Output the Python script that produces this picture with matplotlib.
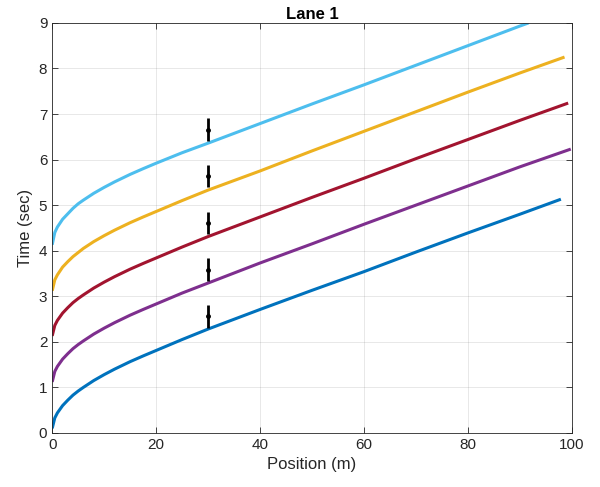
import numpy as np
import matplotlib
matplotlib.use('Agg')
import matplotlib.pyplot as plt

plt.rcParams['font.family'] = ['Liberation Sans', 'DejaVu Sans']

# position samples (m)
pos = [0, 0.5, 1, 2, 3, 4, 5, 6, 8, 10, 12, 15, 17.5, 20, 25, 30,
       40, 50, 60, 70, 80, 90]

lanes = {
    'blue':   (pos + [97.9], [0.10, 0.33, 0.44, 0.60, 0.72, 0.83, 0.92, 1.00, 1.15, 1.28, 1.40,
                              1.565, 1.69, 1.81, 2.05, 2.28,
                              2.71, 3.13, 3.54, 3.97, 4.39, 4.80, 5.13]),
    'purple': (pos + [99.8], [1.12, 1.35, 1.46, 1.62, 1.74, 1.85, 1.94, 2.02, 2.17, 2.30, 2.42,
                              2.585, 2.71, 2.83, 3.07, 3.29,
                              3.73, 4.15, 4.58, 5.00, 5.42, 5.84, 6.23]),
    'red':    (pos + [99.3], [2.13, 2.36, 2.47, 2.63, 2.75, 2.86, 2.95, 3.03, 3.18, 3.31, 3.43,
                              3.595, 3.72, 3.84, 4.08, 4.31,
                              4.74, 5.17, 5.59, 6.02, 6.44, 6.86, 7.24]),
    'yellow': (pos + [98.6], [3.12, 3.36, 3.47, 3.64, 3.76, 3.87, 3.96, 4.05, 4.20, 4.33, 4.45,
                              4.615, 4.74, 4.86, 5.10, 5.33,
                              5.75, 6.19, 6.62, 7.05, 7.48, 7.90, 8.25]),
    'cyan':   (pos + [91.7], [4.13, 4.40, 4.52, 4.69, 4.81, 4.93, 5.03, 5.11, 5.26, 5.39, 5.51,
                              5.675, 5.80, 5.92, 6.15, 6.36,
                              6.79, 7.22, 7.64, 8.07, 8.50, 8.93, 9.00]),
}
colors = {
    'blue': '#0072BD',
    'purple': '#7E2F8E',
    'red': '#A2142F',
    'yellow': '#EDB120',
    'cyan': '#4DBEEE',
}

# measured split times at 30 m
meas_x = [30, 30, 30, 30, 30]
meas_t = [2.56, 3.58, 4.61, 5.64, 6.66]
meas_err = [0.25, 0.25, 0.25, 0.25, 0.25]

fig = plt.figure(figsize=(6.0, 4.87), dpi=100)
ax = fig.add_axes([0.087, 0.111, 0.866, 0.842])

for name, (x, t) in lanes.items():
    ax.plot(x, t, color=colors[name], linewidth=2.2, solid_capstyle='butt')

ax.errorbar(meas_x, meas_t, yerr=meas_err, fmt='.', color='k', markersize=5,
            elinewidth=2, capsize=0, zorder=5)

ax.set_xlim(0, 100)
ax.set_ylim(0, 9)
ax.set_xticks(np.arange(0, 101, 20))
ax.set_yticks(np.arange(0, 10, 1))
ax.grid(True, color='#262626', alpha=0.12, linewidth=0.6)
ax.set_axisbelow(True)
ax.tick_params(direction='in', length=4, labelsize=11, colors='#262626',
               top=True, right=True, width=0.6)
for s in ax.spines.values():
    s.set_color('#262626')
    s.set_linewidth(0.6)

ax.set_xlabel('Position (m)', fontsize=12, color='#262626')
ax.set_ylabel('Time (sec)', fontsize=12, color='#262626', labelpad=4)
ax.set_title('Lane 1', fontsize=12, fontweight='bold', pad=3)

fig.savefig('out.png', dpi=100)
